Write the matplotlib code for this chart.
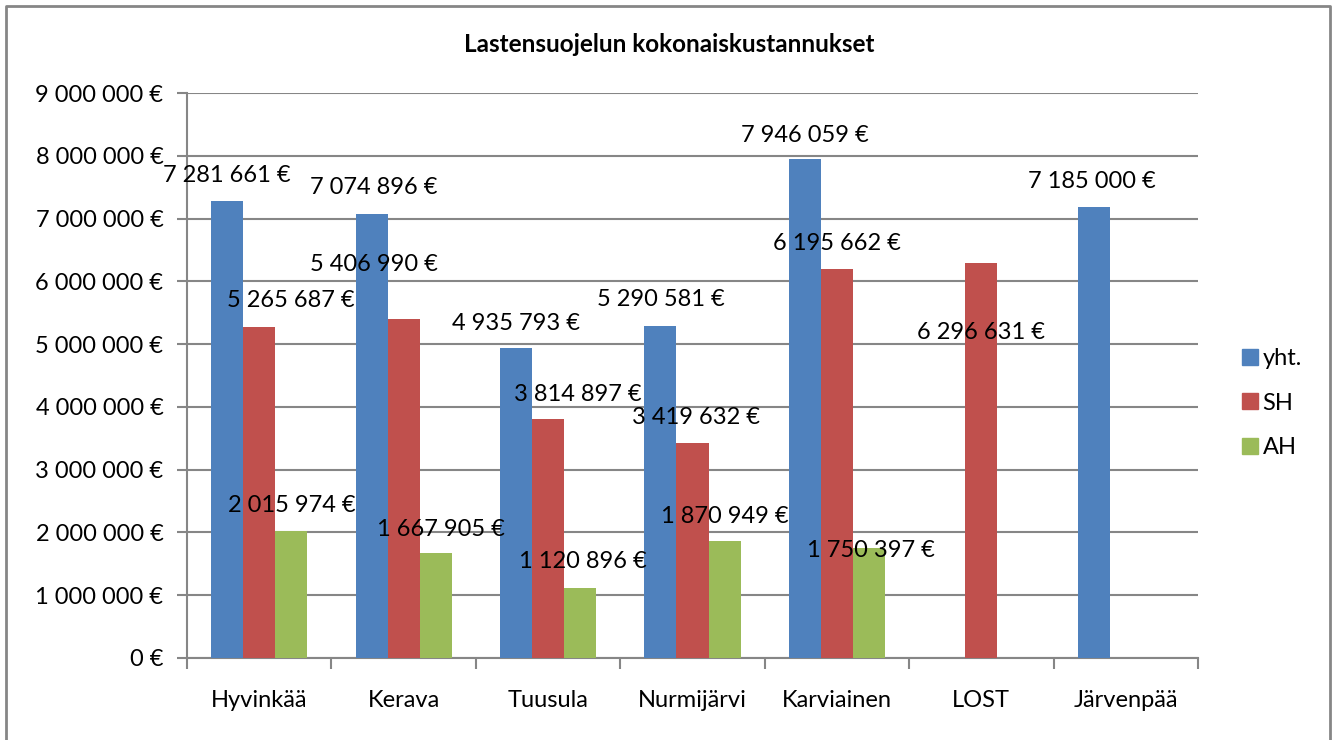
import numpy as np
import matplotlib.pyplot as plt
from matplotlib.lines import Line2D

# Data
kunnat = ['Hyvinkää', 'Kerava', 'Tuusula', 'Nurmijärvi', 'Karviainen', 'LOST', 'Järvenpää']
yht = [7281661, 7074896, 4935793, 5290581, 7946059, None, 7185000]
sh = [5265687, 5406990, 3814897, 3419632, 6195662, 6296631, None]
ah = [2015974, 1667905, 1120896, 1870949, 1750397, None, None]

# label offsets in pixels (dx, dy) relative to bar top
off_yht = [(0, 25), (2, 26), (0, 25), (0, 26), (0, 24), None, (-2, 25)]
off_sh = [(32, 27), (-30, 54), (30, 24), (4, 26), (0, 26), (0, -70), None]
off_ah = [(1, 26), (5, 24), (3, 26), (0, 24), (2, -2), None, None]

colors = ['#4F81BD', '#C0504D', '#9BBB59']
names = ['yht.', 'SH', 'AH']

plt.rcParams['font.family'] = ['Lato', 'DejaVu Sans']
fs = 17

fig = plt.figure(figsize=(13.33, 7.40), dpi=100)
ax = fig.add_axes([187 / 1333, 1 - 658 / 740, (1198 - 187) / 1333, (658 - 93) / 740])

x = np.arange(len(kunnat))
w = 0.222

def fmt(v):
    return '{:,}'.format(v).replace(',', ' ') + ' €'

for i, (series, offs) in enumerate(zip([yht, sh, ah], [off_yht, off_sh, off_ah])):
    xs = [xi + (i - 1) * w for xi, v in zip(x, series) if v is not None]
    vs = [v for v in series if v is not None]
    ax.bar(xs, vs, width=w, color=colors[i], zorder=3)
    for xi, v, o in zip(x, series, offs):
        if v is None:
            continue
        ax.annotate(fmt(v), (xi + (i - 1) * w, v), xytext=o, textcoords='offset pixels',
                    ha='center', va='center', fontsize=fs, zorder=5)

ax.set_xlim(-0.5, len(kunnat) - 0.5)
ax.set_ylim(0, 9000000)
ax.set_yticks(np.arange(0, 9000001, 1000000))
ax.set_yticklabels([fmt(v) for v in range(0, 9000001, 1000000)], fontsize=fs)
ax.set_xticks(x)
ax.set_xticklabels(kunnat, fontsize=fs)
ax.set_xticks(np.arange(-0.5, len(kunnat)), minor=True)
ax.tick_params(axis='x', which='major', length=0, pad=23)
ax.tick_params(axis='x', which='minor', length=8, color='#868686', width=1.5)
ax.tick_params(axis='y', length=7, color='#868686', width=1.5, pad=10)
ax.grid(axis='y', color='#868686', linewidth=1.5, zorder=0)
for s in ['top', 'right']:
    ax.spines[s].set_visible(False)
for s in ['left', 'bottom']:
    ax.spines[s].set_color('#868686')
    ax.spines[s].set_linewidth(1.5)

fig.text(669 / 1333, 1 - 45 / 740, 'Lastensuojelun kokonaiskustannukset',
         ha='center', va='center', fontsize=17.5, fontweight='bold')

handles = [Line2D([], [], marker='s', linestyle='none', markersize=11,
                  markerfacecolor=c, markeredgecolor=c) for c in colors]
fig.legend(handles, names, loc='center left', bbox_to_anchor=(1226 / 1333, 1 - 403 / 740),
           frameon=False, fontsize=fs, handletextpad=0.05, labelspacing=1.0,
           handlelength=1.0, borderpad=0)

# outer border
fig.add_artist(Line2D([6 / 1333, 6 / 1333, 1330 / 1333, 1330 / 1333],
                      [0, 1 - 6 / 740, 1 - 6 / 740, 0],
                      transform=fig.transFigure, color='#868686', linewidth=2))

fig.savefig('out.png', dpi=100)
